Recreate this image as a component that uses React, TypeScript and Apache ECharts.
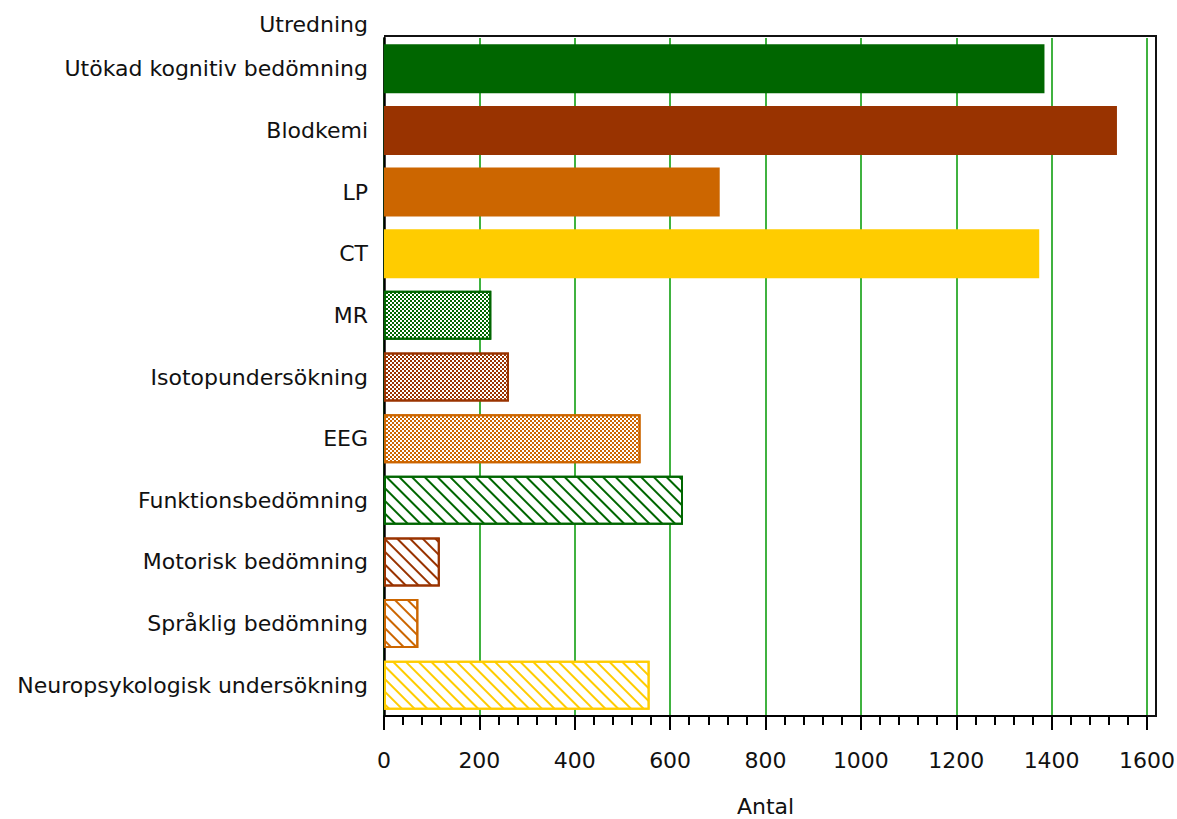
import React, { useEffect, useRef } from "react";
import * as echarts from "echarts";

const categories = [
  "Utökad kognitiv bedömning",
  "Blodkemi",
  "LP",
  "CT",
  "MR",
  "Isotopundersökning",
  "EEG",
  "Funktionsbedömning",
  "Motorisk bedömning",
  "Språklig bedömning",
  "Neuropsykologisk undersökning",
];
const values = [1385, 1537, 704, 1374, 225, 262, 538, 627, 117, 72, 557];
const barColors = [
  "#006600", "#993300", "#CC6600", "#FFCC00",
  "#006600", "#993300", "#CC6600",
  "#006600", "#993300", "#CC6600", "#FFCC00",
];
const fillKinds = [
  "solid", "solid", "solid", "solid",
  "cross", "cross", "cross",
  "diag", "diag", "diag", "diag",
];
const xTicks = [0, 200, 400, 600, 800, 1000, 1200, 1400, 1600];

const FONT = "DejaVu Sans, Verdana, sans-serif";
const FS = 22;

export default function App() {
  const ref = useRef<HTMLDivElement>(null);
  useEffect(() => {
    if (!ref.current) return;
    const chart = echarts.init(ref.current, undefined, { renderer: "svg" });
    const data = values.map((v, i) => {
      const c = barColors[i];
      const kind = fillKinds[i];
      if (kind === "solid") {
        return { value: v, itemStyle: { color: c } };
      }
      const decal =
        kind === "cross"
          ? {
              symbol: "rect",
              symbolSize: 1,
              dashArrayX: [[2, 2], [0, 2, 2, 0]],
              dashArrayY: [2, 0],
              rotation: 0,
              color: c,
              backgroundColor: "#ffffff",
            }
          : {
              symbol: "rect",
              symbolSize: 1,
              dashArrayX: [1, 0],
              dashArrayY: [2, 6.5],
              rotation: Math.PI / 4,
              color: c,
              backgroundColor: "#ffffff",
            };
      return {
        value: v,
        itemStyle: { color: "#ffffff", borderColor: c, borderWidth: 2, decal },
      };
    });
    chart.setOption({
      animation: false,
      backgroundColor: "#ffffff",
      textStyle: { fontFamily: FONT },
      grid: {
        left: 384,
        top: 38,
        right: 30,
        bottom: 103,
        containLabel: false,
        outerBoundsMode: "none",
      },
      xAxis: {
        type: "value",
        min: xTicks[0],
        max: xTicks[xTicks.length - 1],
        interval: 200,
        name: "Antal",
        nameLocation: "middle",
        nameGap: 79,
        nameTextStyle: { fontSize: FS, color: "#111", fontFamily: FONT },
        axisLine: { show: true, onZero: false, lineStyle: { color: "#000", width: 2 } },
        axisTick: { show: true, inside: false, length: 14, lineStyle: { color: "#000", width: 2 } },
        minorTick: { show: true, splitNumber: 5, length: 9, lineStyle: { color: "#000", width: 2 } },
        axisLabel: {
          fontSize: FS,
          color: "#111",
          margin: 33,
          fontFamily: FONT,
          formatter: (v: number) => String(v),
        },
        splitLine: { show: true, lineStyle: { color: "#009900", width: 1.5 } },
      },
      yAxis: {
        type: "category",
        data: categories,
        inverse: true,
        name: "Utredning",
        nameLocation: "start",
        nameGap: 3,
        nameTextStyle: {
          fontSize: FS,
          color: "#111",
          fontFamily: FONT,
          align: "right",
          padding: [0, 16, 0, 0],
        },
        axisLine: { show: true, lineStyle: { color: "#000", width: 2.5 } },
        axisTick: { show: false },
        axisLabel: { fontSize: FS, color: "#111", margin: 16, fontFamily: FONT },
        splitLine: { show: false },
      },
      series: [
        {
          type: "bar",
          data,
          barWidth: 49,
        },
      ],
      graphic: [
        {
          type: "polyline",
          silent: true,
          z: 10,
          shape: { points: [[384, 36], [1156, 36], [1156, 716], [1147, 716]] },
          style: { fill: "none", stroke: "#111", lineWidth: 2 },
        },
      ],
    });
    return () => chart.dispose();
  }, []);
  return (
    <div
      ref={ref}
      style={{ position: "fixed", left: 0, top: 0, width: 1177, height: 819 }}
    />
  );
}
